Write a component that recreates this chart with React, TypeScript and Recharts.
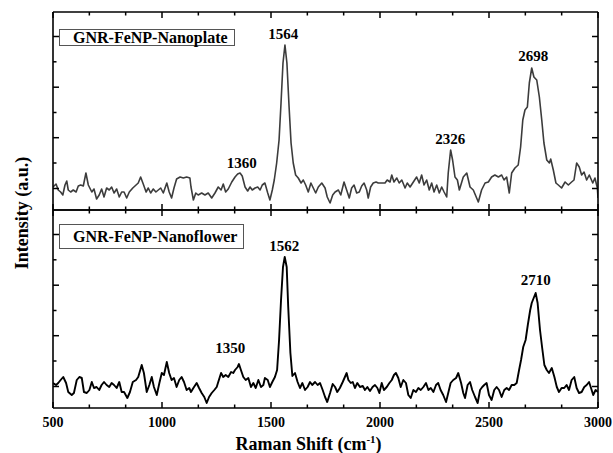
import React from "react";
import {
  LineChart,
  Line,
  XAxis,
  YAxis,
  ReferenceDot,
  ReferenceLine,
  Legend,
  Label,
} from "recharts";

// Raman shift (cm-1) and intensity (a.u.)
const plateShift = [
  500, 514, 524, 535, 545, 555, 563, 570, 581, 593,
  606, 616, 627, 639, 651, 662, 678, 688, 700, 712,
  723, 734, 746, 758, 769, 780, 792, 804, 815, 826,
  838, 850, 866, 881, 891, 902, 914, 927, 937, 948,
  960, 972, 983, 994, 1006, 1022, 1033, 1044, 1055, 1067,
  1083, 1098, 1113, 1128, 1133, 1144, 1155, 1166, 1182, 1197,
  1212, 1228, 1243, 1258, 1271, 1281, 1292, 1304, 1320, 1335,
  1347, 1358, 1368, 1381, 1393, 1404, 1414, 1427, 1439, 1450,
  1460, 1472, 1485, 1495, 1506, 1515, 1526, 1537, 1546, 1555,
  1564, 1573, 1583, 1592, 1602, 1613, 1625, 1638, 1648, 1659,
  1671, 1683, 1694, 1705, 1717, 1733, 1748, 1758, 1771, 1783,
  1794, 1809, 1820, 1835, 1847, 1859, 1870, 1881, 1893, 1905,
  1916, 1927, 1939, 1946, 1957, 1969, 1982, 1992, 2008, 2023,
  2033, 2046, 2054, 2064, 2077, 2088, 2100, 2115, 2125, 2138,
  2153, 2168, 2180, 2191, 2202, 2214, 2226, 2237, 2248, 2260,
  2272, 2283, 2294, 2306, 2313, 2324, 2333, 2344, 2355, 2364,
  2382, 2398, 2413, 2428, 2451, 2466, 2482, 2497, 2512, 2527,
  2543, 2558, 2569, 2581, 2593, 2604, 2619, 2634, 2645, 2655,
  2665, 2676, 2685, 2696, 2706, 2719, 2731, 2742, 2752, 2765,
  2777, 2783, 2795, 2807, 2818, 2833, 2849, 2864, 2879, 2890,
  2902, 2914, 2925, 2936, 2948, 2960, 2976, 2986, 2997, 3000,
];
const plateIntensity = [
  23, 26, 20, 18, 15, 25, 29, 20, 18, 20,
  18, 24, 25, 24, 37, 25, 18, 21, 11, 15,
  21, 13, 22, 20, 23, 17, 21, 13, 18, 18,
  12, 18, 22, 25, 27, 33, 26, 18, 22, 17,
  21, 18, 20, 22, 17, 27, 18, 12, 22, 31,
  33, 32, 33, 32, 23, 10, 17, 15, 17, 15,
  17, 12, 17, 23, 20, 26, 18, 21, 28, 33,
  36, 37, 34, 23, 19, 23, 20, 22, 23, 20,
  25, 27, 17, 10, 20, 30, 47, 70, 107, 147,
  165, 147, 103, 67, 47, 35, 32, 27, 30, 25,
  18, 27, 22, 17, 23, 27, 22, 13, 7, 15,
  18, 20, 15, 28, 20, 12, 22, 25, 17, 18,
  24, 27, 20, 12, 23, 27, 28, 27, 27, 27,
  30, 28, 35, 28, 32, 27, 30, 22, 27, 23,
  28, 33, 27, 35, 25, 30, 20, 27, 18, 25,
  17, 23, 18, 13, 37, 60, 50, 33, 30, 20,
  33, 37, 23, 20, 8, 20, 27, 28, 33, 35,
  33, 35, 30, 33, 17, 37, 42, 45, 63, 90,
  100, 103, 127, 142, 133, 130, 113, 90, 67, 50,
  47, 51, 40, 27, 25, 22, 28, 25, 28, 30,
  47, 43, 35, 38, 30, 35, 27, 32, 22, 12,
];

const flowerShift = [
  500, 514, 524, 535, 547, 560, 570, 586, 596, 609,
  621, 632, 642, 655, 667, 678, 688, 700, 712, 723,
  734, 746, 758, 769, 780, 792, 804, 815, 826, 841,
  853, 866, 881, 891, 907, 917, 930, 942, 953, 963,
  976, 988, 999, 1009, 1022, 1033, 1044, 1055, 1067, 1079,
  1090, 1101, 1113, 1125, 1133, 1144, 1159, 1170, 1182, 1194,
  1205, 1216, 1228, 1240, 1251, 1258, 1271, 1281, 1292, 1304,
  1317, 1327, 1335, 1347, 1353, 1362, 1373, 1384, 1396, 1408,
  1419, 1430, 1442, 1454, 1465, 1472, 1485, 1495, 1506, 1518,
  1528, 1537, 1546, 1555, 1563, 1572, 1579, 1589, 1598, 1610,
  1622, 1633, 1644, 1656, 1668, 1679, 1689, 1702, 1714, 1725,
  1737, 1748, 1758, 1771, 1783, 1794, 1804, 1816, 1829, 1839,
  1847, 1855, 1866, 1875, 1885, 1896, 1908, 1921, 1931, 1942,
  1954, 1966, 1977, 1988, 1997, 2008, 2018, 2031, 2043, 2054,
  2064, 2073, 2084, 2095, 2107, 2119, 2130, 2141, 2153, 2165,
  2176, 2187, 2199, 2211, 2222, 2233, 2245, 2257, 2267, 2278,
  2290, 2303, 2313, 2324, 2336, 2349, 2359, 2372, 2382, 2390,
  2402, 2413, 2423, 2436, 2448, 2459, 2469, 2478, 2489, 2500,
  2512, 2524, 2535, 2546, 2558, 2570, 2581, 2592, 2604, 2616,
  2627, 2638, 2647, 2657, 2668, 2678, 2689, 2696, 2705, 2714,
  2723, 2734, 2744, 2754, 2765, 2775, 2788, 2800, 2811, 2821,
  2833, 2845, 2856, 2867, 2879, 2891, 2902, 2913, 2925, 2937,
  2948, 2959, 2968, 2978, 2989, 3000,
];
const flowerIntensity = [
  25, 23, 25, 28, 31, 25, 16, 13, 15, 28,
  31, 30, 16, 15, 18, 26, 20, 21, 18, 23,
  26, 23, 21, 25, 23, 20, 26, 16, 16, 10,
  16, 26, 28, 31, 43, 35, 16, 23, 31, 21,
  13, 25, 35, 33, 46, 35, 28, 30, 21, 28,
  31, 26, 18, 20, 16, 20, 25, 20, 15, 11,
  5, 11, 15, 18, 21, 26, 35, 31, 33, 31,
  36, 35, 38, 41, 44, 38, 31, 28, 30, 21,
  25, 20, 28, 21, 23, 30, 28, 21, 26, 31,
  38, 68, 108, 141, 151, 141, 101, 55, 32, 35,
  26, 20, 25, 18, 21, 26, 23, 26, 23, 25,
  18, 11, 6, 15, 24, 21, 16, 20, 26, 31,
  35, 28, 25, 26, 20, 25, 21, 22, 18, 21,
  17, 21, 23, 20, 15, 25, 18, 21, 25, 28,
  33, 35, 30, 21, 28, 25, 13, 10, 18, 16,
  20, 18, 21, 25, 18, 20, 16, 23, 25, 18,
  13, 6, 15, 25, 28, 30, 35, 25, 15, 10,
  23, 26, 18, 11, 5, 18, 21, 23, 25, 13,
  8, 18, 21, 18, 11, 18, 20, 18, 23, 23,
  25, 38, 48, 61, 68, 83, 98, 105, 110, 115,
  105, 78, 60, 43, 38, 35, 40, 31, 21, 16,
  20, 20, 23, 18, 28, 31, 20, 15, 16, 21,
  23, 26, 20, 13, 18, 16,
];

// peak annotations: text, and where its centre sits (shift, intensity)
const plateLabels = [
  { text: "1360", shift: 1366, at: 47 },
  { text: "1564", shift: 1556, at: 176 },
  { text: "2326", shift: 2322, at: 71 },
  { text: "2698", shift: 2703, at: 154 },
];
const flowerLabels = [
  { text: "1350", shift: 1313, at: 60 },
  { text: "1562", shift: 1561, at: 162 },
  { text: "2710", shift: 2715, at: 128 },
];

const shiftMajor = [500, 1000, 1500, 2000, 2500, 3000];
const shiftTicks = [
  500, 666.7, 833.3, 1000, 1166.7, 1333.3, 1500, 1666.7, 1833.3,
  2000, 2166.7, 2333.3, 2500, 2666.7, 2833.3, 3000,
];
const intensityMajor = [21.5, 72.3, 122.8, 173.5];
const intensityTicks = [21.5, 47, 72.3, 97.5, 122.8, 148.2, 173.5];
const intensityMax = 198;

const plateData = plateShift.map((s, i) => ({ shift: s, intensity: plateIntensity[i] }));
const flowerData = flowerShift.map((s, i) => ({ shift: s, intensity: flowerIntensity[i] }));

const FONT = "'Liberation Serif', 'Times New Roman', serif";
const axisLine = { stroke: "#000", strokeWidth: 1.6 };

// inward pointing y tick marks (tickSize=0 puts x/y right on the axis line)
const yTick = (dir: "left" | "right") => (props: any) => {
  const x = Number(props.x);
  const y = Number(props.y);
  const major = intensityMajor.includes(props.payload.value);
  const len = major ? 6 : 3.5;
  const dx = dir === "left" ? -len : len;
  return <line x1={x} y1={y} x2={x + dx} y2={y} stroke="#000" strokeWidth={1.5} />;
};

// x tick labels only, the marks come from the reference segments
const xLabel = (props: any) => {
  const v = props.payload.value;
  if (!shiftMajor.includes(v)) return <g />;
  return (
    <text
      x={props.x}
      y={Number(props.y) + 19}
      textAnchor="middle"
      fontFamily={FONT}
      fontWeight="bold"
      fontSize={14}
      fill="#000"
    >
      {v}
    </text>
  );
};

const peakText = (text: string) => (p: any) =>
  (
    <text
      x={p.cx}
      y={p.cy}
      textAnchor="middle"
      dominantBaseline="central"
      fontFamily={FONT}
      fontWeight="bold"
      fontSize={15}
      fill="#000"
    >
      {text}
    </text>
  );

const legendBox = (text: string, lineHeight: number) => () =>
  (
    <div
      style={{
        border: "1px solid #555",
        padding: "0 6px 0 13px",
        lineHeight: `${lineHeight}px`,
        fontFamily: FONT,
        fontWeight: "bold",
        fontSize: 16,
        color: "#000",
        whiteSpace: "nowrap",
        background: "#fff",
      }}
    >
      {text}
    </div>
  );

const xTitle = (props: any) => {
  const vb = props.viewBox;
  return (
    <text
      x={vb.x + vb.width / 2 - 17}
      y={vb.y + 42}
      textAnchor="middle"
      fontFamily={FONT}
      fontWeight="bold"
      fontSize={18}
      fill="#000"
    >
      Raman Shift (cm
      <tspan dy={-7} fontSize={11}>
        -1
      </tspan>
      <tspan dy={7}>)</tspan>
    </text>
  );
};

// axes are 1px thick boxes (zero sized axes are not drawn), margins take 1px off.
function Panel({
  data,
  labels,
  stroke,
  width,
  legend,
  legendTop,
  legendLine,
  bottomAxis,
}: {
  data: { shift: number; intensity: number }[];
  labels: { text: string; shift: number; at: number }[];
  stroke: string;
  width: number;
  legend: string;
  legendTop: number;
  legendLine: number;
  bottomAxis: boolean;
}) {
  const top = bottomAxis ? 1 : 11;
  const height = bottomAxis ? 245 : 212;
  return (
    <LineChart
      width={613}
      height={height}
      data={data}
      margin={{ top, right: 14, bottom: bottomAxis ? 0 : 1, left: 52 }}
    >
      <XAxis
        xAxisId="b"
        dataKey="shift"
        type="number"
        domain={[500, 3000]}
        allowDataOverflow
        ticks={shiftTicks}
        interval={0}
        orientation="bottom"
        height={bottomAxis ? 45 : 1}
        tickSize={0}
        tickMargin={0}
        tickLine={false}
        tick={bottomAxis ? xLabel : false}
        axisLine={axisLine}
      >
        {bottomAxis && <Label content={xTitle} />}
      </XAxis>
      <XAxis
        xAxisId="t"
        dataKey="shift"
        type="number"
        domain={[500, 3000]}
        allowDataOverflow
        orientation="top"
        height={1}
        tickLine={false}
        tick={false}
        axisLine={axisLine}
      />
      <YAxis
        yAxisId="l"
        type="number"
        domain={[0, intensityMax]}
        allowDataOverflow
        ticks={intensityTicks}
        interval={0}
        width={1}
        tickSize={0}
        tickMargin={0}
        tickLine={false}
        tick={yTick("right")}
        axisLine={axisLine}
      />
      <YAxis
        yAxisId="r"
        orientation="right"
        type="number"
        domain={[0, intensityMax]}
        allowDataOverflow
        ticks={intensityTicks}
        interval={0}
        width={1}
        tickSize={0}
        tickMargin={0}
        tickLine={false}
        tick={yTick("left")}
        axisLine={axisLine}
      />
      {/* inward x tick marks on the bottom and top frame, 1 intensity unit = 1px */}
      {shiftTicks.map((v) => {
        const len = shiftMajor.includes(v) ? 6 : 3.5;
        return (
          <ReferenceLine
            key={`xb${v}`}
            xAxisId="b"
            yAxisId="l"
            segment={[
              { x: v, y: 0 },
              { x: v, y: len },
            ]}
            stroke="#000"
            strokeWidth={1.5}
          />
        );
      })}
      {shiftTicks.map((v) => {
        const len = shiftMajor.includes(v) ? 6 : 3.5;
        return (
          <ReferenceLine
            key={`xt${v}`}
            xAxisId="b"
            yAxisId="l"
            segment={[
              { x: v, y: intensityMax },
              { x: v, y: intensityMax - len },
            ]}
            stroke="#000"
            strokeWidth={1.5}
          />
        );
      })}
      <Line
        xAxisId="b"
        yAxisId="l"
        type="linear"
        dataKey="intensity"
        stroke={stroke}
        strokeWidth={width}
        strokeLinejoin="round"
        dot={false}
        isAnimationActive={false}
      />
      {labels.map((p) => (
        <ReferenceDot
          key={p.text}
          xAxisId="t"
          yAxisId="r"
          x={p.shift}
          y={p.at}
          r={0}
          shape={peakText(p.text)}
        />
      ))}
      <Legend
        layout="horizontal"
        verticalAlign="middle"
        align="center"
        wrapperStyle={{ left: 59, top: legendTop, width: "auto" }}
        content={legendBox(legend, legendLine)}
      />
    </LineChart>
  );
}

export default function App() {
  return (
    <div
      style={{
        position: "absolute",
        left: 0,
        top: 0,
        width: 613,
        height: 453,
        background: "#fff",
        overflow: "hidden",
      }}
    >
      <div style={{ position: "absolute", left: 0, top: 0 }}>
        <Panel
          data={plateData}
          labels={plateLabels}
          stroke="#3c3c3c"
          width={1.6}
          legend="GNR-FeNP-Nanoplate"
          legendTop={29}
          legendLine={15}
          bottomAxis={false}
        />
      </div>
      <div style={{ position: "absolute", left: 0, top: 208 }}>
        <Panel
          data={flowerData}
          labels={flowerLabels}
          stroke="#000"
          width={1.9}
          legend="GNR-FeNP-Nanoflower"
          legendTop={16}
          legendLine={23}
          bottomAxis={true}
        />
      </div>
      <svg
        width={44}
        height={453}
        style={{ position: "absolute", left: 0, top: 0 }}
      >
        <text
          transform="translate(22,213) rotate(-90)"
          textAnchor="middle"
          dominantBaseline="central"
          fontFamily={FONT}
          fontWeight="bold"
          fontSize={18}
          fill="#000"
        >
          Intensity (a.u.)
        </text>
      </svg>
    </div>
  );
}
